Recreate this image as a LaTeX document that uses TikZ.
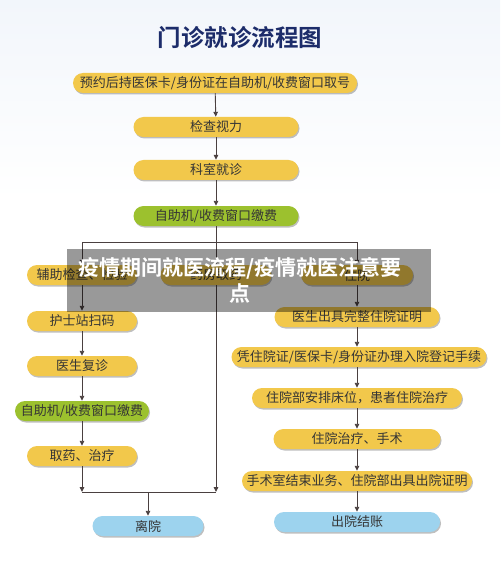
\documentclass[tikz,border=0pt]{standalone}
\usepackage{fontspec}
\newfontfamily\cjk{Noto Sans CJK SC}[BoldFont={Noto Sans CJK SC Bold}]
\usetikzlibrary{arrows.meta,shadows}

\definecolor{pillyellow}{HTML}{F2C84B}
\definecolor{pillgreen}{HTML}{9CC12E}
\definecolor{pillblue}{HTML}{9DD3EE}
\definecolor{txtgray}{HTML}{353535}
\definecolor{linebrown}{HTML}{4A4040}
\definecolor{titleblue}{HTML}{1C2C6A}
\definecolor{bgblue}{HTML}{F2F6FB}

\tikzset{
  pill/.style={rounded corners=10pt, minimum height=20pt, inner sep=0pt,
    fill=pillyellow, text=txtgray, font=\cjk\fontsize{13}{15}\selectfont,
    drop shadow={shadow xshift=1pt, shadow yshift=-1.5pt, fill=black, opacity=0.25}},
  greenpill/.style={pill, fill=pillgreen},
  bluepill/.style={pill, fill=pillblue},
  link/.style={draw=linebrown, line width=0.9pt},
  flow/.style={link, -{Triangle[length=5pt,width=4.5pt]}}
}

\begin{document}
\begin{tikzpicture}[x=1pt,y=-1pt]
        \useasboundingbox (0,0) rectangle (500,561);
        \shade[top color=bgblue, bottom color=white] (0,0) rectangle (500,200);
        \fill[white] (0,200) rectangle (500,561);

        \node[text=titleblue, font=\cjk\bfseries\fontsize{23.5}{26}\selectfont] (title) at (240,38) {门诊就诊流程图};

        % main line
        \node[pill, minimum width=284pt] (book) at (215,83) {预约后持医保卡/身份证在自助机/收费窗口取号};
        \node[pill, minimum width=165pt] (eye) at (216,127) {检查视力};
        \node[pill, minimum width=165pt] (dept) at (216,170) {科室就诊};
        \node[greenpill, minimum width=165pt] (pay) at (216,216) {自助机/收费窗口缴费};
        \coordinate (split) at (216,242);

        \node[pill, minimum width=110pt] (exam) at (82,275) {辅助检查、检验};
        \node[pill, minimum width=111pt] (drug) at (216,275) {药房取药};
        \node[pill, minimum width=112pt] (ward) at (357,275) {住院};

        % left column
        \node[pill, minimum width=110pt] (nurse) at (82,321) {护士站扫码};
        \node[pill, minimum width=110pt] (recheck) at (82,366) {医生复诊};
        \node[greenpill, minimum width=134pt] (pay2) at (82,411) {自助机/收费窗口缴费};
        \node[pill, minimum width=110pt] (cure) at (82,456) {取药、治疗};
        \coordinate (join) at (148,492);
        \node[bluepill, minimum width=111pt] (leave) at (148,526) {离院};

        % right column
        \node[pill, minimum width=165pt] (cert) at (357,317) {医生出具完整住院证明};
        \node[pill, minimum width=255pt] (admit) at (359,357) {凭住院证/医保卡/身份证办理入院登记手续};
        \node[pill, minimum width=210pt] (bed) at (357,398) {住院部安排床位，患者住院治疗};
        \node[pill, minimum width=167pt] (surgery) at (357,439) {住院治疗、手术};
        \node[pill, minimum width=230pt] (discharge) at (357,481) {手术室结束业务、住院部出具出院证明};
        \node[bluepill, minimum width=166pt] (bill) at (357,522) {出院结账};

        % connectors
        \draw[flow] (book) -- (eye);
        \draw[flow] (eye) -- (dept);
        \draw[flow] (dept) -- (pay);
        \draw[link] (pay) -- (split);
        \draw[link] (exam.north |- split) -- (ward.north |- split);
        \draw[flow] (exam.north |- split) -- (exam);
        \draw[flow] (split) -- (drug);
        \draw[flow] (ward.north |- split) -- (ward);

        \draw[flow] (exam) -- (nurse);
        \draw[flow] (nurse) -- (recheck);
        \draw[flow] (recheck) -- (pay2);
        \draw[flow] (pay2) -- (cure);
        \draw[flow] (cure) -- (cure |- join);
        \draw[flow] (drug) -- (drug |- join);
        \draw[link] (cure |- join) -- (drug |- join);
        \draw[flow] (join) -- (leave);

        \draw[flow] (ward) -- (cert);
        \draw[flow] (cert) -- (ward.south |- admit.north);
        \draw[flow] (ward.south |- admit.south) -- (bed);
        \draw[flow] (bed) -- (surgery);
        \draw[flow] (surgery) -- (discharge);
        \draw[flow] (discharge) -- (bill);

        % banner on top
        \fill[black, opacity=0.4] (67,249) rectangle (431,312);
        \node[text=white, font=\cjk\bfseries\fontsize{21}{26}\selectfont, align=center] (banner) at (240,280) {疫情期间就医流程/疫情就医注意要\\点};
      \end{tikzpicture}
\end{document}
